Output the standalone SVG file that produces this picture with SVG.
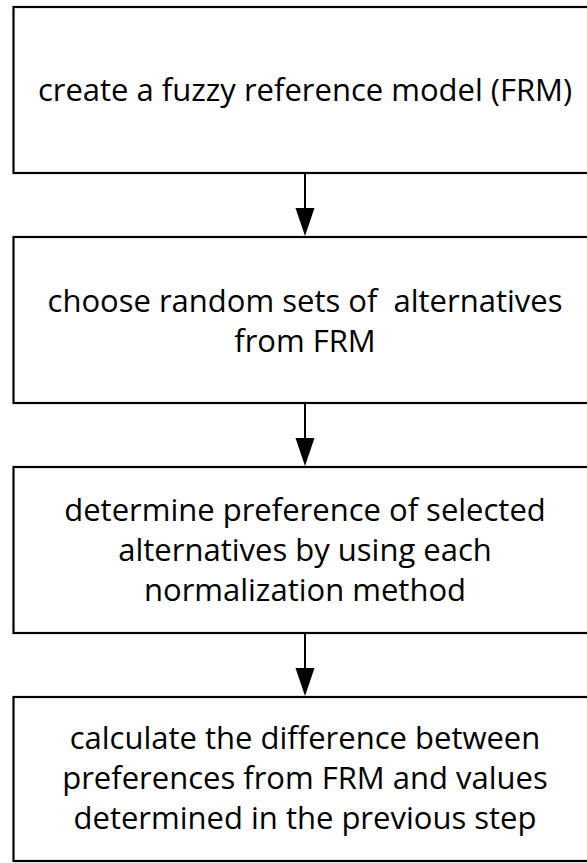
<svg xmlns="http://www.w3.org/2000/svg" width="587" height="863" viewBox="0 0 587 863">
<style>
.box{fill:#fff;stroke:#000;stroke-width:2.2}
.t{font-family:"Open Sans",Lato,"Liberation Sans",sans-serif;font-size:31px;fill:#000;text-anchor:middle;white-space:pre}
.c{stroke:#000;stroke-width:2;fill:none}
</style>
<rect width="587" height="863" fill="#fff"/>
<g id="n1"><rect class="box" x="13.5" y="7" width="584" height="166"/><text class="t" x="305" y="101">create a fuzzy reference model (FRM)</text></g>
<g id="n2"><rect class="box" x="13.5" y="237" width="584" height="166"/><text class="t" x="305" y="312" xml:space="preserve">choose random sets of  alternatives</text><text class="t" x="305" y="352">from FRM</text></g>
<g id="n3"><rect class="box" x="13.5" y="467" width="584" height="166"/><text class="t" x="305" y="521">determine preference of selected</text><text class="t" x="305" y="561">alternatives by using each</text><text class="t" x="305" y="601">normalization method</text></g>
<g id="n4"><rect class="box" x="13.5" y="697" width="584" height="164"/><text class="t" x="305" y="749">calculate the difference between</text><text class="t" x="305" y="789">preferences from FRM and values</text><text class="t" x="305" y="829">determined in the previous step</text></g>
<g id="connectors">
<path class="c" d="M305,174 L305,208" /><path d="M295.5,208 L314.5,208 L305,236 Z"/>
<path class="c" d="M305,404 L305,438" /><path d="M295.5,438 L314.5,438 L305,466 Z"/>
<path class="c" d="M305,634 L305,668" /><path d="M295.5,668 L314.5,668 L305,696 Z"/>
</g>
</svg>
